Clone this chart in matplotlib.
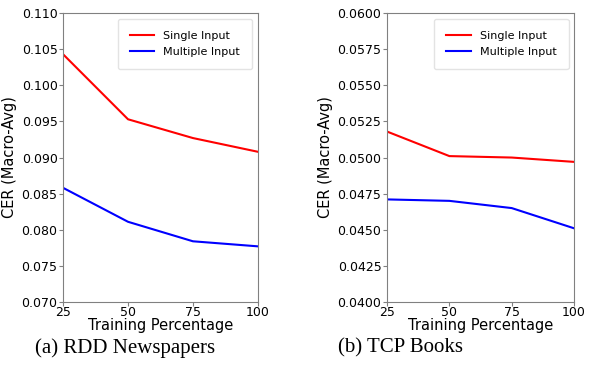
import matplotlib
matplotlib.use('Agg')
import matplotlib.pyplot as plt

x = [25, 50, 75, 100]
rdd_single = [0.1043, 0.0953, 0.0927, 0.0908]
rdd_multi = [0.0858, 0.0811, 0.0784, 0.0777]
tcp_single = [0.0518, 0.0501, 0.0500, 0.0497]
tcp_multi = [0.0471, 0.0470, 0.0465, 0.0451]

rdd_yticks = [0.070, 0.075, 0.080, 0.085, 0.090, 0.095, 0.100, 0.105, 0.110]
tcp_yticks = [0.0400, 0.0425, 0.0450, 0.0475, 0.0500, 0.0525, 0.0550, 0.0575, 0.0600]

fig = plt.figure(figsize=(5.9, 3.76), dpi=100)
ax1 = fig.add_axes([0.107, 0.197, 0.330, 0.768])
ax2 = fig.add_axes([0.656, 0.197, 0.317, 0.768])


def style(ax, single, multi, yticks, fmt, ylab_x):
    ax.plot(x, single, color='red', lw=1.5, label='Single Input')
    ax.plot(x, multi, color='blue', lw=1.5, label='Multiple Input')
    ax.set_xlim(25, 100)
    ax.set_ylim(yticks[0], yticks[-1])
    ax.set_xticks(x)
    ax.set_yticks(yticks)
    ax.set_yticklabels([fmt % v for v in yticks])
    ax.tick_params(labelsize=9, color='#808080', length=3, pad=1)
    ax.tick_params(axis='x', pad=0)
    for s in ax.spines.values():
        s.set_color('#808080')
    ax.set_xlabel('Training Percentage', fontsize=10.5, labelpad=-1)
    ax.set_ylabel('CER (Macro-Avg)', fontsize=10.5)
    ax.yaxis.set_label_coords(ylab_x, 0.5)
    ax.legend(loc='upper right', fontsize=8, borderpad=1.1, labelspacing=0.55,
              handlelength=2.2, handletextpad=0.8,
              fancybox=True, edgecolor='#dddddd')


style(ax1, rdd_single, rdd_multi, rdd_yticks, '%.3f', -0.236)
style(ax2, tcp_single, tcp_multi, tcp_yticks, '%.4f', -0.289)

fig.text(0.212, 0.075, '(a) RDD Newspapers', ha='center', va='center',
         fontsize=15, family='Liberation Serif')
fig.text(0.678, 0.075, '(b) TCP Books', ha='center', va='center',
         fontsize=15, family='Liberation Serif')

fig.savefig('out.png', dpi=100)
